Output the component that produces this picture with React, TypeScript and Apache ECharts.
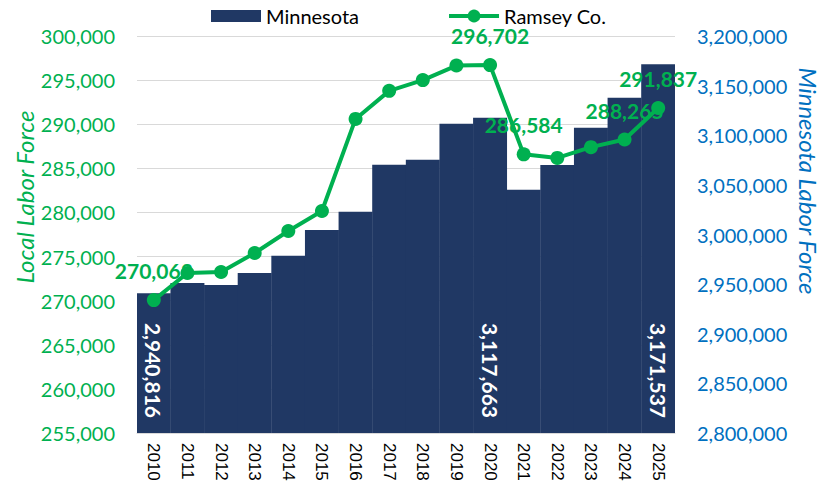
import React, { useEffect, useRef } from "react";
import * as echarts from "echarts";

const years = ["2010","2011","2012","2013","2014","2015","2016","2017","2018","2019","2020","2021","2022","2023","2024","2025"];
const minnesota = [2940816, 2951200, 2949200, 2961300, 2978700, 3004600, 3022800, 3070200, 3075200, 3111500, 3117663, 3045000, 3070000, 3107500, 3137700, 3171537];
const ramsey = [270063, 273140, 273250, 275400, 277900, 280170, 290600, 293780, 295000, 296650, 296702, 286584, 286180, 287400, 288265, 291837];
const ramseyLabeled = ["2010", "2020", "2021", "2024", "2025"];
const minnesotaLabeled = ["2010", "2020", "2025"];
const leftTicks = { min: 255000, max: 300000, interval: 5000 };
const rightTicks = { min: 2800000, max: 3200000, interval: 50000 };

const GREEN = "#00B050";
const BLUE = "#0070C0";
const NAVY = "#203864";
const FONT = "Lato";

const fmt = (v: number) => v.toLocaleString("en-US");

export default function App() {
  const ref = useRef<HTMLDivElement>(null);
  useEffect(() => {
    if (!ref.current) return;
    const chart = echarts.init(ref.current, undefined, { renderer: "svg" });
    chart.setOption({
      animation: false,
      textStyle: { fontFamily: FONT },
      legend: {
        left: 206,
        top: 1,
        itemWidth: 50,
        itemHeight: 16,
        itemGap: 88,
        textStyle: { fontFamily: FONT, fontSize: 20, color: "#000" },
        data: [
          { name: "Minnesota", icon: "path://M0,0 L50,0 L50,12 L0,12 Z" },
          { name: "Ramsey Co.", lineStyle: { width: 4, color: GREEN }, itemStyle: { color: GREEN } },
        ],
      },
      grid: { left: 137, right: 158, top: 36, bottom: 60 },
      xAxis: {
        type: "category",
        data: years,
        axisLine: { lineStyle: { color: "#D9D9D9", width: 1 } },
        axisTick: { show: false, length: 0, lineStyle: { width: 0, color: "transparent" } },
        splitLine: { show: false, lineStyle: { width: 0, color: "transparent" } },
        splitArea: { show: false },
        axisLabel: {
          rotate: -90,
          fontFamily: "Liberation Sans",
          fontSize: 17,
          color: "#000",
          margin: 10,
        },
      },
      yAxis: [
        {
          type: "value",
          ...leftTicks,
          position: "left",
          axisLine: { show: false },
          axisTick: { show: false },
          splitLine: { lineStyle: { color: "#D9D9D9", width: 1 } },
          axisLabel: {
            formatter: (v: number) => fmt(v),
            color: GREEN,
            fontFamily: FONT,
            fontSize: 20,
            margin: 22,
          },
        },
        {
          type: "value",
          ...rightTicks,
          position: "right",
          axisLine: { show: false },
          axisTick: { show: false },
          splitLine: { show: false },
          axisLabel: {
            formatter: (v: number) => fmt(v),
            color: BLUE,
            fontFamily: FONT,
            fontSize: 20,
            margin: 22,
          },
        },
      ],
      graphic: [
        {
          type: "text",
          x: 24,
          y: 197,
          rotation: Math.PI / 2,
          style: {
            text: "Local Labor Force",
            fill: GREEN,
            font: `italic 24px ${FONT}`,
            align: "center",
            verticalAlign: "middle",
          },
        },
        {
          type: "text",
          x: 808,
          y: 181,
          rotation: -Math.PI / 2,
          style: {
            text: "Minnesota Labor Force",
            fill: BLUE,
            font: `italic 24px ${FONT}`,
            align: "center",
            verticalAlign: "middle",
          },
        },
      ],
      series: [
        {
          name: "Minnesota",
          type: "bar",
          yAxisIndex: 1,
          barCategoryGap: "0%",
          barWidth: "101%",
          itemStyle: { color: NAVY, borderWidth: 0 },
          data: minnesota.map((v, i) => ({
            value: v,
            label: {
              show: minnesotaLabeled.includes(years[i]),
              position: "insideBottom",
              distance: 15,
              rotate: -90,
              align: "right",
              verticalAlign: "middle",
              color: "#fff",
              fontFamily: FONT,
              fontWeight: "bold",
              fontSize: 21,
              formatter: (p: any) => fmt(p.value),
            },
          })),
        },
        {
          name: "Ramsey Co.",
          type: "line",
          yAxisIndex: 0,
          symbol: "circle",
          symbolSize: 14,
          lineStyle: { color: GREEN, width: 4 },
          itemStyle: { color: GREEN },
          z: 5,
          data: ramsey.map((v, i) => ({
            value: v,
            label: {
              show: ramseyLabeled.includes(years[i]),
              position: "top",
              distance: 12,
              color: GREEN,
              fontFamily: FONT,
              fontWeight: "bold",
              fontSize: 21,
              formatter: (p: any) => fmt(p.value),
            },
          })),
        },
      ],
    });
    return () => chart.dispose();
  }, []);
  return (
    <div
      ref={ref}
      style={{ position: "absolute", left: 0, top: 0, width: 833, height: 493, background: "#fff" }}
    />
  );
}
